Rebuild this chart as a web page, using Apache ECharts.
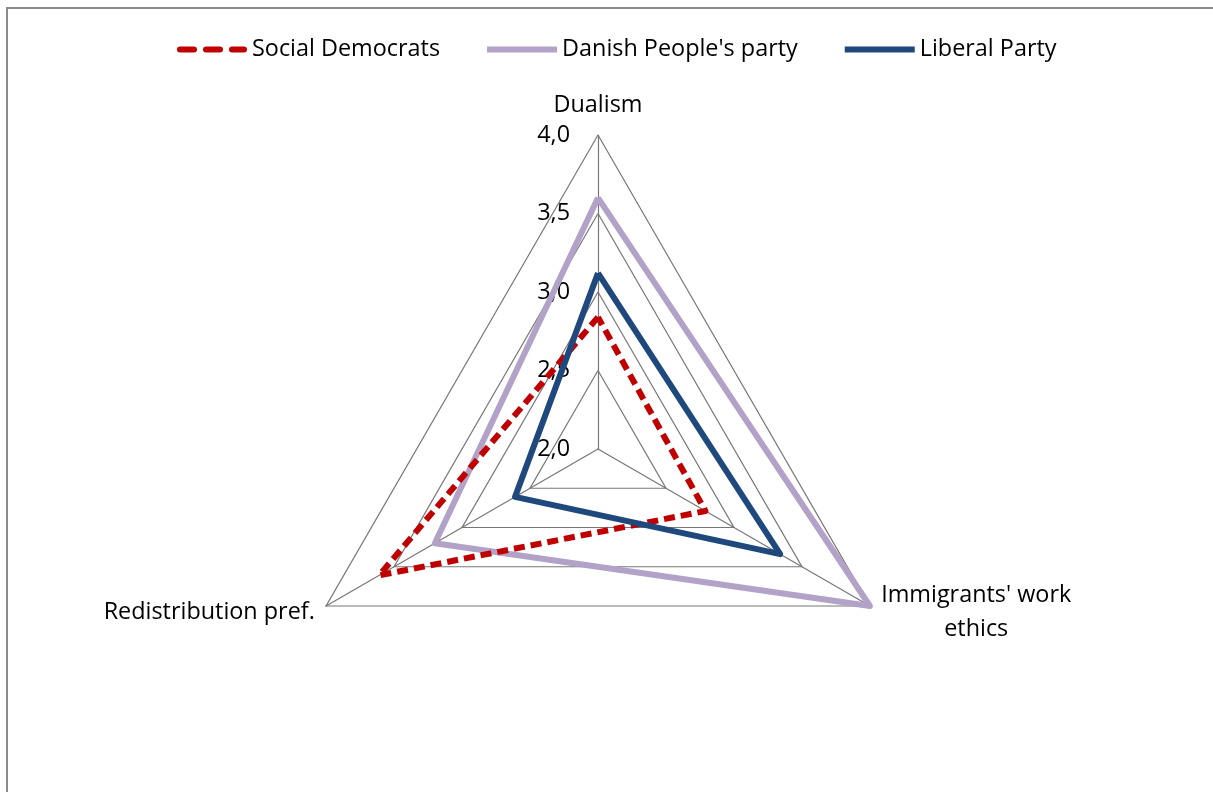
<!DOCTYPE html>
<html>
<head>
<meta charset="utf-8">
<script src="https://cdn.jsdelivr.net/npm/echarts@6/dist/echarts.min.js"></script>
<style>
html,body{margin:0;padding:0;background:#fff;}
#chart{width:1213px;height:792px;}
</style>
</head>
<body>
<div id="chart"></div>
<script>
const indicators = ["Dualism", "Redistribution pref.", "Immigrants' work ethics"];
const axisMin = 2.0;
const axisMax = 4.0;
const seriesNames = ["Social Democrats", "Danish People's party", "Liberal Party"];
// values in indicator order: Dualism, Redistribution pref., Immigrants' work ethics
const socialDemocrats = [2.84, 3.61, 2.79];
const danishPeoples = [3.60, 3.20, 4.00];
const liberalParty = [3.12, 2.61, 3.34];
const colors = { sd: "#C00000", dpp: "#B3A2C7", lib: "#1F497D" };
const FONT = "Open Sans";

const chart = echarts.init(document.getElementById('chart'), null, { renderer: 'canvas' });

const option = {
  backgroundColor: '#ffffff',
  animation: false,
  graphic: [{
    type: 'rect',
    shape: { x: 7, y: 8, width: 1230, height: 810 },
    style: { fill: 'none', stroke: '#8c8c8c', lineWidth: 2 },
    silent: true,
    z: 0
  }],
  legend: {
    left: 172,
    top: 33,
    itemWidth: 70,
    itemHeight: 6,
    itemGap: 47,
    textStyle: { fontFamily: FONT, fontSize: 23.4, color: '#000' },
    data: [
      { name: seriesNames[0], icon: 'path://M3,0h14a3,3 0 0 1 0,6h-14a3,3 0 0 1 0,-6z M29,0h14a3,3 0 0 1 0,6h-14a3,3 0 0 1 0,-6z M55,0h12a3,3 0 0 1 0,6h-12a3,3 0 0 1 0,-6z' },
      { name: seriesNames[1], icon: 'rect' },
      { name: seriesNames[2], icon: 'rect' }
    ]
  },
  radar: {
    center: [598, 449],
    radius: 314,
    shape: 'polygon',
    startAngle: 90,
    splitNumber: 4,
    nameGap: 13,
    axisName: {
      color: '#000',
      fontFamily: FONT,
      fontSize: 23.4,
      formatter: function (name) {
        if (name === "Immigrants' work ethics") {
          return "{c|Immigrants' work}\n{c|ethics}";
        }
        if (name === "Dualism") {
          return "{d|Dualism}";
        }
        return name;
      },
      rich: {
        c: { fontFamily: FONT, fontSize: 23.4, color: '#000', width: 190, align: 'center', lineHeight: 34 },
        d: { fontFamily: FONT, fontSize: 23.4, color: '#000', lineHeight: 34 }
      }
    },
    axisLine: { lineStyle: { color: '#777777', width: 1.2 } },
    splitLine: { lineStyle: { color: '#777777', width: 1.2 } },
    splitArea: { show: false },
    axisTick: { show: false },
    axisLabel: { show: false },
    indicator: indicators.map(function (n, i) {
      const ind = { name: n, min: axisMin, max: axisMax };
      if (i === 0) {
        ind.axisLabel = {
          show: true,
          fontFamily: FONT,
          fontSize: 23.4,
          color: '#000',
          margin: 28,
          showMinLabel: true,
          showMaxLabel: true,
          formatter: function (v) { return Number(v).toFixed(1).replace('.', ','); }
        };
      }
      return ind;
    })
  },
  series: [{
    type: 'radar',
    symbol: 'none',
    data: [
      {
        name: seriesNames[1],
        value: danishPeoples,
        itemStyle: { color: colors.dpp },
        lineStyle: { color: colors.dpp, width: 6 }
      },
      {
        name: seriesNames[0],
        value: socialDemocrats,
        itemStyle: { color: colors.sd },
        lineStyle: { color: colors.sd, width: 6, type: [11, 6] }
      },
      {
        name: seriesNames[2],
        value: liberalParty,
        itemStyle: { color: colors.lib },
        lineStyle: { color: colors.lib, width: 6 }
      }
    ]
  }]
};
chart.setOption(option);
</script>
</body>
</html>
